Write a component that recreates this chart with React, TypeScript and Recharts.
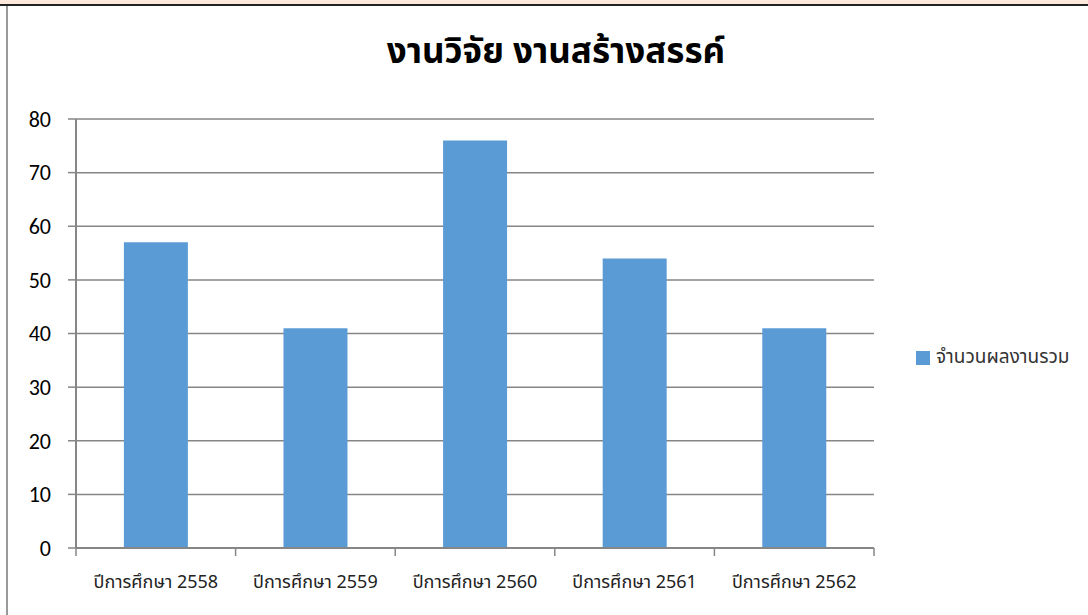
import { Bar, BarChart, CartesianGrid, XAxis, YAxis } from "recharts";

const years = [
  "ปีการศึกษา 2558",
  "ปีการศึกษา 2559",
  "ปีการศึกษา 2560",
  "ปีการศึกษา 2561",
  "ปีการศึกษา 2562",
];
const totals = [57, 41, 76, 54, 41];
const yTicks = [0, 10, 20, 30, 40, 50, 60, 70, 80];

const seriesName = "จำนวนผลงานรวม";
const title = "งานวิจัย งานสร้างสรรค์";

const data = years.map((year, i) => ({ year, total: totals[i] }));

const font = "Tahoma, 'Noto Sans Thai', 'DejaVu Sans', 'Liberation Sans', sans-serif";
const gray = "#868686";
const xMargin = 27;

// category label plus the tick marks on the band edges (Excel style)
function YearTick(props: any) {
  const { x, y, payload } = props;
  const half = payload.offset ?? 0;
  const top = y - xMargin;
  const last = payload.index === years.length - 1;
  return (
    <g>
      <line x1={x - half} x2={x - half} y1={top} y2={top + 8} stroke={gray} strokeWidth={1.5} />
      {last && <line x1={x + half} x2={x + half} y1={top} y2={top + 8} stroke={gray} strokeWidth={1.5} />}
      <text x={x} y={y} dy="0.71em" textAnchor="middle" fontSize={18} fill="#222" fontFamily={font}>
        {payload.value}
      </text>
    </g>
  );
}

export default function App() {
  return (
    <div style={{ position: "absolute", left: 0, top: 0, width: 1088, height: 615, background: "#fff", overflow: "hidden" }}>
      <div style={{ position: "absolute", left: 0, top: 0, width: 1088, height: 4, background: "#fde9db" }} />
      <div style={{ position: "absolute", left: 0, top: 4, width: 1088, height: 2, background: "#222" }} />
      <div style={{ position: "absolute", left: 6, top: 6, width: 2, height: 609, background: "#999" }} />
      <div
        style={{
          position: "absolute",
          left: 0,
          top: 26,
          width: 1112,
          textAlign: "center",
          fontFamily: font,
          fontWeight: "bold",
          fontSize: 35,
          color: "#000",
        }}
      >
        {title}
      </div>
      <div
        style={{
          position: "absolute",
          left: 916,
          top: 343,
          display: "flex",
          alignItems: "center",
          fontFamily: font,
          fontSize: 19,
          color: "#333",
          whiteSpace: "nowrap",
        }}
      >
        <span style={{ width: 14, height: 14, background: "#5b9bd5", marginRight: 6 }} />
        {seriesName}
      </div>
      <BarChart
        width={1088}
        height={615}
        data={data}
        margin={{ top: 119, right: 214, left: 16, bottom: 37 }}
        barCategoryGap="30%"
      >
        <CartesianGrid vertical={false} stroke={gray} strokeWidth={1.5} />
        <XAxis
          dataKey="year"
          tickLine={false}
          tickSize={0}
          axisLine={{ stroke: gray, strokeWidth: 2 }}
          tick={<YearTick />}
          tickMargin={xMargin}
          height={30}
          interval={0}
        />
        <YAxis
          domain={[0, 80]}
          ticks={yTicks}
          width={60}
          tickSize={8}
          tickMargin={17}
          axisLine={{ stroke: gray, strokeWidth: 2 }}
          tickLine={{ stroke: gray, strokeWidth: 1.5 }}
          tick={{ fontSize: 22, fill: "#000", fontFamily: "Calibri, Carlito, 'Open Sans', sans-serif" }}
        />
        <Bar dataKey="total" name={seriesName} fill="#5b9bd5" isAnimationActive={false} />
      </BarChart>
    </div>
  );
}
